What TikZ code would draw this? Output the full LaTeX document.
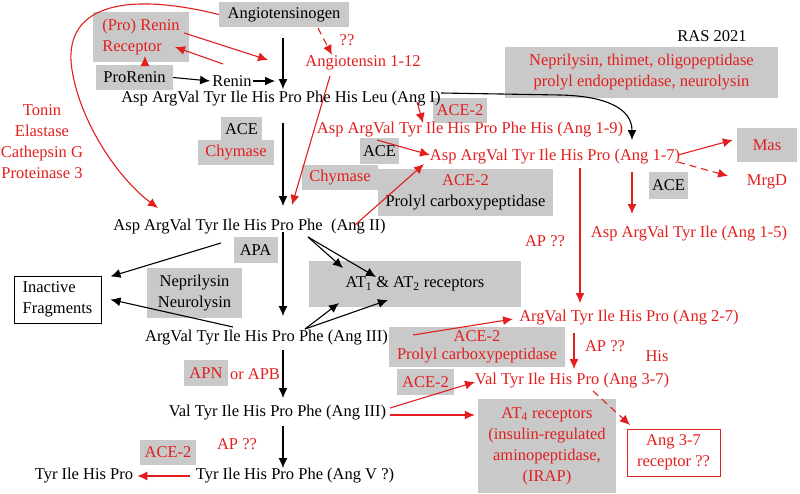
\documentclass[tikz,border=0pt]{standalone}
\usepackage{fontspec}
\setmainfont{Liberation Serif}
\usetikzlibrary{arrows.meta}
\definecolor{rasred}{RGB}{226,30,30}
\definecolor{rasgray}{RGB}{201,201,201}
\tikzset{
	gbox/.style={fill=rasgray, inner sep=0pt, align=center},
	rtext/.style={text=rasred},
	blkarr/.style={-{Latex[length=10pt,width=9pt]}, line width=1.1pt, black},
	redarr/.style={-{Latex[length=10pt,width=9pt]}, line width=1.1pt, rasred},
	dashline/.style={dash pattern=on 7pt off 5pt},
}
\begin{document}
\begin{tikzpicture}[x=1pt,y=-1pt, font=\fontsize{16.5}{21}\selectfont, every node/.style={inner sep=0pt}]
	\useasboundingbox (0,0) rectangle (800,493);
	
	% boxes
	\node[gbox, minimum width=130, minimum height=25] (agen) at (284,14.5) {Angiotensinogen};
	\node[gbox, rtext, minimum width=96, minimum height=50, align=left] (prorr) at (141,37) {(Pro) Renin\\Receptor};
	\node[gbox, minimum width=77, minimum height=25] (prorenin) at (134.5,77.5) {ProRenin};
	\node[gbox, rtext, minimum width=273, minimum height=51] (nep) at (641.5,72.5) {Neprilysin, thimet, oligopeptidase\\prolyl endopeptidase, neurolysin};
	\node[gbox, rtext, minimum width=54, minimum height=25] (acetwoa) at (460,110.5) {ACE-2};
	\node[gbox, minimum width=41, minimum height=25] (acea) at (241.5,129.5) {ACE};
	\node[gbox, rtext, minimum width=76, minimum height=25] (chya) at (236,152.5) {Chymase};
	\node[gbox, minimum width=39, minimum height=26] (aceb) at (379.5,151) {ACE};
	\node[gbox, rtext, minimum width=76, minimum height=25] (chyb) at (340,177.5) {Chymase};
	\node[gbox, minimum width=175, minimum height=47] (prolyla) at (465.5,192.5) {\textcolor{rasred}{ACE-2}\\Prolyl carboxypeptidase};
	\node[gbox, rtext, minimum width=60, minimum height=34] (mas) at (767,145) {Mas};
	\node[gbox, minimum width=39, minimum height=27] (acec) at (668.5,185.5) {ACE};
	\node[gbox, minimum width=44, minimum height=26] (apa) at (255.5,250) {APA};
	\node[draw, line width=1pt, fill=white, minimum width=87, minimum height=47, align=left] (inact) at (57.5,299.5) {Inactive\\Fragments};
	\node[gbox, minimum width=95, minimum height=50] (neu) at (194.5,293) {Neprilysin\\Neurolysin};
	\node[gbox, minimum width=212, minimum height=46] (atot) at (415,284) {AT\textsubscript{1} \& AT\textsubscript{2} receptors};
	\node[gbox, rtext, minimum width=176, minimum height=40, font=\fontsize{16.5}{18}\selectfont] (prolylb) at (477,347) {ACE-2\\Prolyl carboxypeptidase};
	\node[gbox, rtext, minimum width=57, minimum height=26] (acetwob) at (425.5,382) {ACE-2};
	\node[gbox, rtext, minimum width=44, minimum height=26] (apn) at (206,373) {APN};
	\node[gbox, rtext, minimum width=138, minimum height=94] (atfour) at (547,446) {AT\textsubscript{4} receptors\\(insulin-regulated\\aminopeptidase,\\(IRAP)};
	\node[draw=rasred, line width=1pt, fill=white, rtext, align=center, minimum width=93, minimum height=47] (angsrec) at (673.5,452.5) {Ang 3-7\\receptor ??};
	\node[gbox, rtext, minimum width=56, minimum height=25] (acetwoc) at (168,452.5) {ACE-2};
	
	% texts
	\node (renin) at (232,81) {Renin};
	\node[rtext] (qqa) at (347,40) {??};
	\node[rtext] (angtwelve) at (363,63) {Angiotensin 1-12};
	\node (ras) at (712,36) {RAS 2021};
	\node (angI) at (281,99) {Asp ArgVal Tyr Ile His Pro Phe His Leu (Ang I)};
	\node[rtext] (angnine) at (470,130) {Asp ArgVal Tyr Ile His Pro Phe His (Ang 1-9)};
	\node[rtext] (angseven) at (555,157) {Asp ArgVal Tyr Ile His Pro (Ang 1-7)};
	\node[rtext] (mrgd) at (767,182) {MrgD};
	\node[rtext] (angfive) at (689,234) {Asp ArgVal Tyr Ile (Ang 1-5)};
	\node[rtext, align=center] (tonin) at (42,142) {Tonin\\Elastase\\Cathepsin G\\Proteinase 3};
	\node (angII) at (249.5,227) {Asp ArgVal Tyr Ile His Pro Phe\ \ (Ang II)};
	\node[rtext] (apqa) at (545,241) {AP ??};
	\node[rtext] (angtwoseven) at (629,318) {ArgVal Tyr Ile His Pro (Ang 2-7)};
	\node (angIII) at (266.5,338) {ArgVal Tyr Ile His Pro Phe (Ang III)};
	\node[rtext] (apqb) at (605,346) {AP ??};
	\node[rtext] (his) at (657,356) {His};
	\node[rtext] (orapb) at (255,374) {or APB};
	\node[rtext] (angthreeseven) at (572,381) {Val Tyr Ile His Pro (Ang 3-7)};
	\node (angIIIb) at (277.5,413) {Val Tyr Ile His Pro Phe (Ang III)};
	\node[rtext] (apqc) at (237,444) {AP ??};
	\node (angV) at (295,476) {Tyr Ile His Pro Phe (Ang V ?)};
	\node (tihp) at (84,476) {Tyr Ile His Pro};
	
	% connector ends
	\coordinate (c1) at (283,38);
	\coordinate (c2) at (283,89);
	\coordinate (c3) at (275,81);
	\coordinate (c4) at (268,60);
	\coordinate (c5) at (223,64);
	\coordinate (c6) at (175,47);
	\coordinate (c7) at (145,56);
	\coordinate (c8) at (318,28);
	\coordinate (c9) at (332,55);
	\coordinate (c10) at (330,76);
	\coordinate (c11) at (292,205);
	\coordinate (c12) at (441,93);
	\coordinate (c13) at (632,140);
	\coordinate (c14) at (417,102);
	\coordinate (c15) at (423,123);
	\coordinate (c16) at (377,140);
	\coordinate (c17) at (430,155);
	\coordinate (c18) at (355,225);
	\coordinate (c19) at (424,164);
	\coordinate (c20) at (283,123);
	\coordinate (c21) at (283,206);
	\coordinate (c22) at (632,172);
	\coordinate (c23) at (632,214);
	\coordinate (c24) at (580,168);
	\coordinate (c25) at (580,303);
	\coordinate (c26) at (574,333);
	\coordinate (c27) at (574,369);
	\coordinate (c28) at (593,391);
	\coordinate (c29) at (413,335);
	\coordinate (c30) at (513,319);
	\coordinate (c31) at (390,408);
	\coordinate (c32) at (475,382);
	\coordinate (c33) at (390,415);
	\coordinate (c34) at (221,243);
	\coordinate (c35) at (233,327);
	\coordinate (c36) at (308,237);
	\coordinate (c37) at (305,329);
	\coordinate (c38) at (283,232);
	\coordinate (c39) at (283,316);
	\coordinate (c40) at (283,350);
	\coordinate (c41) at (283,398);
	\coordinate (c42) at (283,426);
	\coordinate (c43) at (283,468);
	\coordinate (c44) at (190,476);
	\coordinate (c45) at (678,155);
	\coordinate (c46) at (678,162);
	\coordinate (c47) at (158,208);
	\coordinate (c48) at (728,176);
	\coordinate (c49) at (630,425);
	
	% black arrows
	\draw[blkarr] (c1) -- (c2);
	\draw[blkarr] (prorenin.east) -- ([xshift=-2pt]renin.west);
	\draw[blkarr] ([xshift=1pt]renin.east) -- (c3);
	\draw[blkarr] (c12) -- (560,95) .. controls (605,96) and (632,108) .. (c13);
	\draw[blkarr] (c20) -- (c21);
	\draw[blkarr] (c38) -- (c39);
	\draw[blkarr] (c40) -- (c41);
	\draw[blkarr] (c42) -- (c43);
	\draw[blkarr] (c34) -- ([xshift=9pt,yshift=-1pt]inact.north east);
	\draw[blkarr] (c35) -- ([xshift=9pt]inact.east);
	\draw[blkarr] (c36) -- (343,268);
	\draw[blkarr] (c36) -- (376,277);
	\draw[blkarr] (c37) -- (339,303);
	\draw[blkarr] (c37) -- (388,300);
	
	% red arrows
	\draw[redarr] (c4 -| prorr.east) ++(-5,-27) -- (c4);
	\draw[redarr] (c5) -- (c6);
	\draw[redarr, line width=1pt] (prorenin.north -| c7) -- (c7);
	\draw[redarr, dashline] (c8) -- (c9);
	\draw[redarr] (c10) -- (c11);
	\draw[redarr] (c14) -- (c15);
	\draw[redarr] (c16) -- (c17);
	\draw[redarr] (c18) -- (c19);
	\draw[redarr] (c45) -- ([xshift=-4pt,yshift=5pt]mas.west);
	\draw[redarr, dashline] (c46) -- (c48);
	\draw[redarr] (c22) -- (c23);
	\draw[redarr] (c24) -- (c25);
	\draw[redarr] (c26) -- (c27);
	\draw[redarr, dashline] (c28) -- (c49);
	\draw[redarr] (c29) -- (c30);
	\draw[redarr] (c31) -- (c32);
	\draw[redarr] (c33) -- ([xshift=-3pt]atfour.west |- c33);
	\draw[redarr] (c44) -- ([xshift=4pt]tihp.east);
	\draw[redarr] (agen.west) .. controls (120,-10) and (62,8) .. (72,70) .. controls (81,125) and (120,180) .. (c47);
	
\end{tikzpicture}
\end{document}
